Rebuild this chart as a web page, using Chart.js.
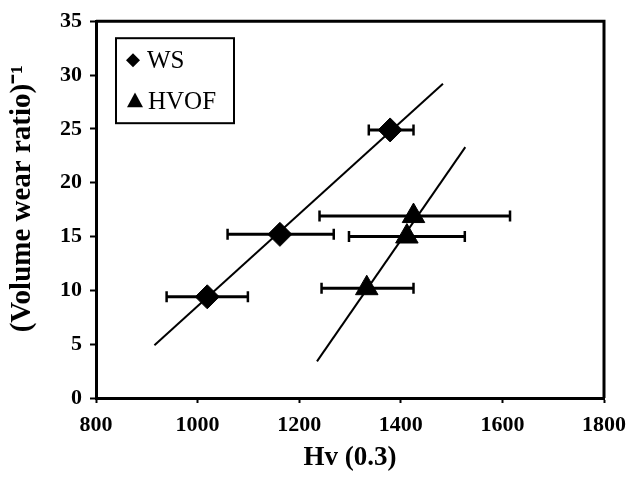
<!DOCTYPE html>
<html>
<head>
<meta charset="utf-8">
<script src="https://cdn.jsdelivr.net/npm/chart.js@4"></script>
<style>
  html, body { margin: 0; padding: 0; background: #fff; }
  canvas { display: block; }
</style>
</head>
<body>
<canvas id="grafico" width="631" height="481"></canvas>
<script>
// Dati: durezza Hv(0.3) e inverso del rapporto di usura
const wsHv = [1019, 1162, 1379];
const wsInv = [9.4, 15.2, 24.9];
const wsErrLo = [939, 1059, 1337];
const wsErrHi = [1099, 1268, 1425];

const hvofHv = [1333, 1412, 1425];
const hvofInv = [10.2, 15.0, 16.9];
const hvofErrLo = [1244, 1298, 1240];
const hvofErrHi = [1425, 1526, 1615];

// rette di tendenza (estremi come disegnati)
const wsFitHv = [915, 1483];
const wsFitInv = [4.9, 29.2];
const hvofFitHv = [1235, 1527];
const hvofFitInv = [3.4, 23.3];

const xTicks = [800, 1000, 1200, 1400, 1600, 1800];
const yTicks = [0, 5, 10, 15, 20, 25, 30, 35];

const SERIF = "'Liberation Serif', 'Times New Roman', serif";

function punti(xs, ys) {
  return xs.map((x, i) => ({ x, y: ys[i] }));
}

// barra d'errore orizzontale: due punti con il tappo verticale
function barreErrore(lo, hi, ys) {
  return ys.map((y, i) => ({
    data: [{ x: lo[i], y }, { x: hi[i], y }],
    showLine: true,
    borderColor: "#000",
    borderWidth: 3,
    pointStyle: "line",
    rotation: 90,
    pointRadius: 5.5,
    pointBorderWidth: 2.5,
    pointBorderColor: "#000",
  }));
}

function retta(xs, ys) {
  return {
    data: punti(xs, ys),
    showLine: true,
    borderColor: "#000",
    borderWidth: 2,
    pointRadius: 0,
  };
}

// cornice superiore e destra
const cornice = {
  id: "cornice",
  afterDraw(chart) {
    const { ctx, chartArea: a } = chart;
    ctx.save();
    ctx.strokeStyle = "#000";
    ctx.lineWidth = 3;
    ctx.beginPath();
    ctx.moveTo(a.left, a.top);
    ctx.lineTo(a.right, a.top);
    ctx.lineTo(a.right, a.bottom);
    ctx.stroke();
    ctx.restore();
  },
};

// legenda dentro l'area del grafico
const legenda = {
  id: "legenda",
  afterDraw(chart) {
    const { ctx, chartArea: a } = chart;
    const x0 = a.left + 20;
    const y0 = a.top + 17;
    ctx.save();
    ctx.fillStyle = "#fff";
    ctx.fillRect(x0, y0, 118, 85);
    ctx.strokeStyle = "#000";
    ctx.lineWidth = 2;
    ctx.strokeRect(x0, y0, 118, 85);
    ctx.fillStyle = "#000";
    // rombo
    const dx = x0 + 17, dy = y0 + 22, r = 7;
    ctx.beginPath();
    ctx.moveTo(dx, dy - r);
    ctx.lineTo(dx + r, dy);
    ctx.lineTo(dx, dy + r);
    ctx.lineTo(dx - r, dy);
    ctx.closePath();
    ctx.fill();
    // triangolo
    const tx = x0 + 19, ty = y0 + 63, t = 8;
    ctx.beginPath();
    ctx.moveTo(tx, ty - t * 1.1);
    ctx.lineTo(tx + t, ty + t * 0.75);
    ctx.lineTo(tx - t, ty + t * 0.75);
    ctx.closePath();
    ctx.fill();
    ctx.font = "25px " + SERIF;
    ctx.textBaseline = "alphabetic";
    ctx.fillText("WS", x0 + 31, y0 + 30);
    ctx.fillText("HVOF", x0 + 32, y0 + 71);
    ctx.restore();
  },
};

new Chart(document.getElementById("grafico").getContext("2d"), {
  type: "scatter",
  data: {
    datasets: [
      {
        label: "WS",
        data: punti(wsHv, wsInv),
        pointStyle: "rectRot",
        pointRadius: 12,
        backgroundColor: "#000",
        borderColor: "#000",
      },
      {
        label: "HVOF",
        data: punti(hvofHv, hvofInv),
        pointStyle: "triangle",
        pointRadius: 13,
        backgroundColor: "#000",
        borderColor: "#000",
      },
      retta(wsFitHv, wsFitInv),
      retta(hvofFitHv, hvofFitInv),
      ...barreErrore(wsErrLo, wsErrHi, wsInv),
      ...barreErrore(hvofErrLo, hvofErrHi, hvofInv),
    ],
  },
  options: {
    responsive: false,
    animation: false,
    layout: { padding: { left: 0, top: 17, right: 27, bottom: 0 } },
    plugins: {
      legend: { display: false },
      tooltip: { enabled: false },
    },
    scales: {
      x: {
        type: "linear",
        min: 800,
        max: 1800,
        afterBuildTicks: (s) => { s.ticks = xTicks.map((v) => ({ value: v })); },
        afterFit: (s) => { s.height = 83; s.paddingRight = 0; s.paddingLeft = 0; },
        border: { display: true, color: "#000", width: 3 },
        grid: { drawOnChartArea: false, drawTicks: true, tickLength: 5, tickColor: "#000", tickWidth: 2 },
        ticks: {
          color: "#000",
          padding: 9,
          callback: (v) => String(v),
          font: { family: SERIF, size: 22, weight: "bold" },
        },
        title: {
          display: true,
          text: "Hv (0.3)",
          color: "#000",
          padding: { top: 0, bottom: 7 },
          font: { family: SERIF, size: 27, weight: "bold" },
        },
      },
      y: {
        type: "linear",
        min: 0,
        max: 35,
        afterBuildTicks: (s) => { s.ticks = yTicks.map((v) => ({ value: v })); },
        afterFit: (s) => { s.width = 96; },
        border: { display: true, color: "#000", width: 3 },
        grid: { drawOnChartArea: false, drawTicks: true, tickLength: 6, tickColor: "#000", tickWidth: 2 },
        ticks: {
          color: "#000",
          padding: 8,
          callback: (v) => String(v),
          font: { family: SERIF, size: 22, weight: "bold" },
        },
        title: {
          display: true,
          text: "   (Volume wear ratio)\u207B\u00B9",
          color: "#000",
          padding: { top: 5, bottom: 0 },
          font: { family: SERIF, size: 29, weight: "bold" },
        },
      },
    },
  },
  plugins: [cornice, legenda],
});
</script>
</body>
</html>
